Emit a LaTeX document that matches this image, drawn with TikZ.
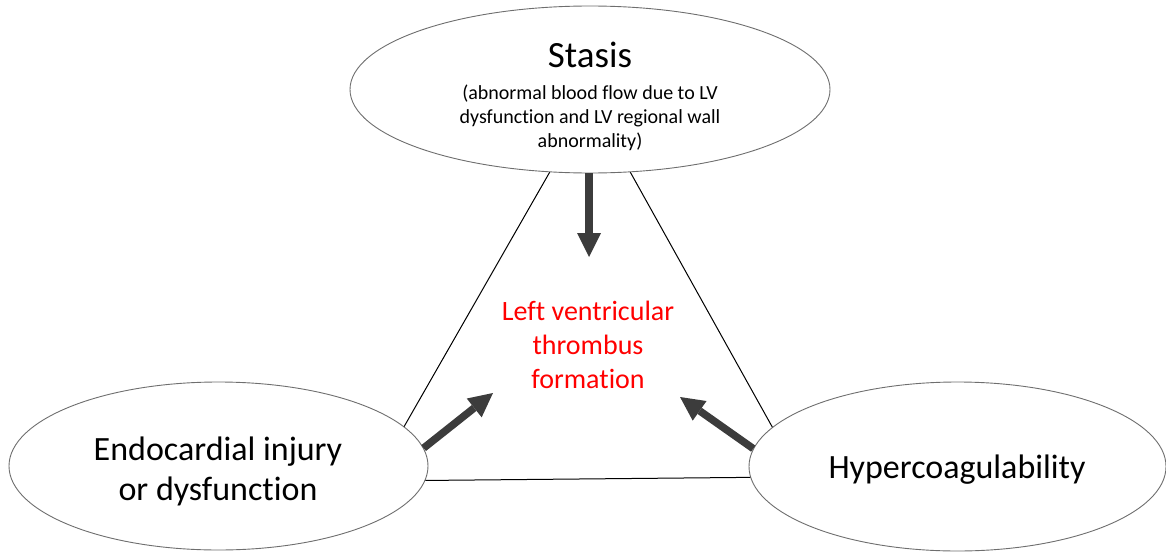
\documentclass[tikz,border=0pt]{standalone}
\usepackage{fontspec}
\setmainfont{Carlito}[Ligatures=NoCommon]
\usepackage{xcolor}
\definecolor{ArrowGray}{RGB}{60,60,60}
\definecolor{EdgeGray}{RGB}{110,110,110}
\definecolor{TextRed}{RGB}{255,0,0}
\usetikzlibrary{
  shapes.geometric,
  arrows.meta,
  positioning
}
\tikzset{
  % Oval for each factor
  oval/.style={
    ellipse, draw=EdgeGray, line width=0.9pt,
    fill=white, inner sep=0pt
  },
  % Side of the triangle
  side/.style={draw=black, line width=1pt},
  % Fat arrow toward the thrombus
  fatarr/.style={
    draw=ArrowGray, line width=7.5pt,
    -{Triangle[length=24pt,width=24pt,line width=0pt]}
  },
  % Texts
  bigtext/.style={font=\fontsize{34}{40}\selectfont, align=center, inner sep=0pt},
  titletext/.style={font=\fontsize{37}{42}\selectfont, inner sep=0pt},
  subtext/.style={font=\fontsize{20}{24}\selectfont, align=center, inner sep=0pt},
  redtext/.style={font=\fontsize{28}{34}\selectfont, align=center, inner sep=0pt, text=TextRed},
}

\begin{document}
\begin{tikzpicture}[x=1pt, y=-1pt]

  \useasboundingbox (0,0) rectangle (1166,551);

  %% Ovals
  \node[oval, minimum width=480pt, minimum height=167pt] (stasis) at (590,89.5) {};
  \node[oval, minimum width=419pt, minimum height=168pt] (endo) at (218.5,466) {};
  \node[oval, minimum width=417pt, minimum height=169pt] (hyper) at (957.5,466.5) {};

  %% Texts
  \node[titletext, anchor=base] (stasis title) at (590,67) {Stasis};
  \node[subtext] (stasis note) at (590,118)
    {(abnormal blood flow due to LV\\dysfunction and LV regional wall\\abnormality)};
  \node[bigtext] (endo text) at (218,471) {Endocardial injury\\or dysfunction};
  \node[bigtext, anchor=base] (hyper text) at (957,478) {Hypercoagulability};
  \node[redtext] (lvt) at (588,345) {Left ventricular\\thrombus\\formation};

  %% Triangle
  \draw[side] (stasis.244) -- (endo.12.6);
  \draw[side] (stasis.296) -- (hyper.168.2);
  \draw[side] (endo.356.1) -- (hyper.183.75);

  %% Arrows
  \coordinate (tipS) at (589,257);
  \coordinate (tipE) at (493,393);
  \coordinate (tipH) at (680,397);
  \draw[fatarr] (stasis.south) ++(-1,0) -- (tipS);
  \draw[fatarr] (endo.5.1) -- (tipE);
  \draw[fatarr] (hyper.175.4) -- (tipH);

\end{tikzpicture}
\end{document}
